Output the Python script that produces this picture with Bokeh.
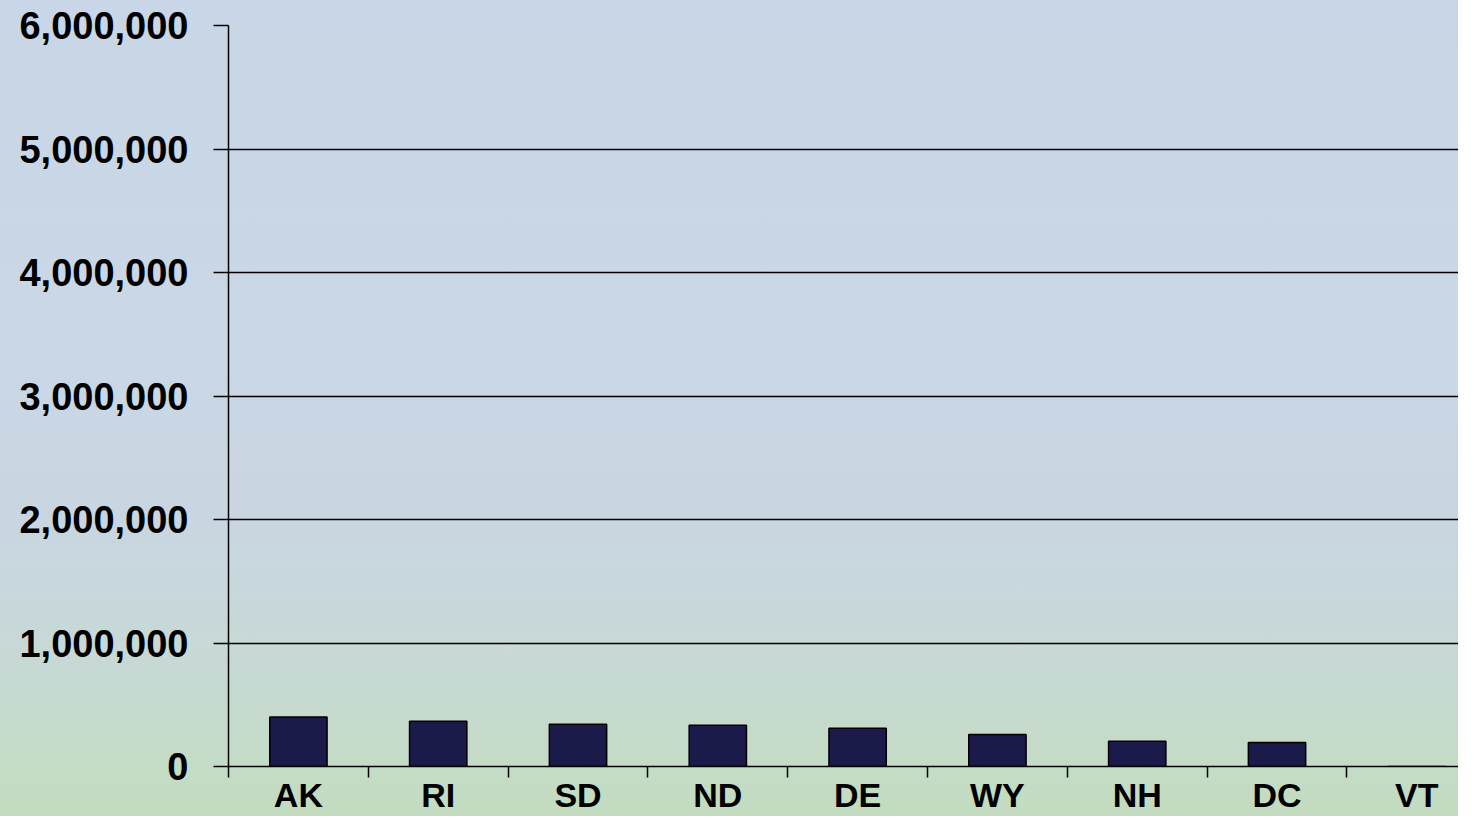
from bokeh.plotting import figure
from bokeh.models import Range1d, FixedTicker, NumeralTickFormatter
from bokeh.embed import file_html
from bokeh.resources import INLINE

# ---- data ----
states = ["AK", "RI", "SD", "ND", "DE", "WY", "NH", "DC", "VT"]
values = [400000, 367000, 343000, 334000, 310000, 259000, 205000, 194000, 0]
y_ticks = [0, 1000000, 2000000, 3000000, 4000000, 5000000, 6000000]

centers = [i + 0.5 for i in range(len(states))]
bounds = list(range(len(states) + 1))

FONT = "Liberation Sans"

p = figure(
    width=1458, height=816,
    output_backend="svg", toolbar_location=None,
    x_range=Range1d(0, 8.798), y_range=Range1d(0, 6000000),
    min_border_left=228, min_border_right=0,
    min_border_top=25, min_border_bottom=50,
)
p.background_fill_color = None
p.border_fill_color = None
p.outline_line_color = None
p.styles = {
    "background": "linear-gradient(to bottom, #c8d6e7 0%, #cad7e5 40%, #c9d6e1 65%, "
                  "#c7d9d4 82%, #c5dbc8 92%, #c3dcbf 100%)"
}

p.vbar(x=centers, top=values, bottom=0, width=0.41,
       fill_color="#1a1a4b", line_color="#000000", line_width=1.5)

# x axis: labels at centres, tick marks at category boundaries
p.xaxis.ticker = FixedTicker(ticks=centers, minor_ticks=bounds)
p.xaxis.major_label_overrides = {c: s for c, s in zip(centers, states)}
p.xaxis.major_tick_out = 0
p.xaxis.major_tick_in = 0
p.xaxis.minor_tick_out = 11
p.xaxis.minor_tick_in = 0
p.xaxis.minor_tick_line_color = "black"
p.xaxis.minor_tick_line_width = 1.5
p.xaxis.axis_line_color = "black"
p.xaxis.axis_line_width = 1.5
p.xaxis.major_label_text_font = FONT
p.xaxis.major_label_text_font_style = "bold"
p.xaxis.major_label_text_font_size = "34px"
p.xaxis.major_label_text_color = "black"
p.xaxis.major_label_standoff = -2

# y axis
p.yaxis.ticker = FixedTicker(ticks=y_ticks)
p.yaxis.formatter = NumeralTickFormatter(format="0,0")
p.yaxis.major_tick_out = 15
p.yaxis.major_tick_in = 0
p.yaxis.minor_tick_line_color = None
p.yaxis.major_tick_line_color = "black"
p.yaxis.major_tick_line_width = 1.5
p.yaxis.axis_line_color = "black"
p.yaxis.axis_line_width = 1.5
p.yaxis.major_label_text_font = FONT
p.yaxis.major_label_text_font_style = "bold"
p.yaxis.major_label_text_font_size = "38px"
p.yaxis.major_label_text_color = "black"
p.yaxis.major_label_standoff = 25

p.xgrid.grid_line_color = None
p.ygrid.ticker = FixedTicker(ticks=y_ticks)
p.ygrid.grid_line_color = "black"
p.ygrid.grid_line_width = 1.5

open("out.html", "w").write(file_html(p, INLINE))
